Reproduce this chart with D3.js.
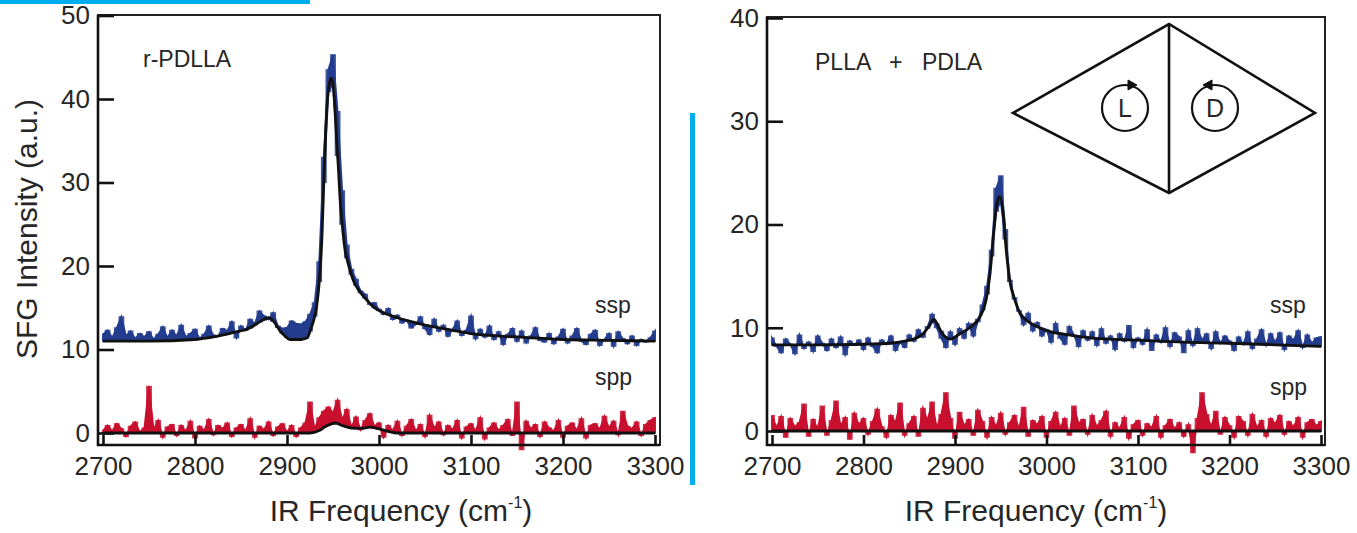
<!DOCTYPE html>
<html>
<head>
<meta charset="utf-8">
<script src="https://cdn.jsdelivr.net/npm/d3@7"></script>
<style>
  body { margin: 0; background: #fff; }
  svg { display: block; }
  text { font-family: "Liberation Sans", Arial, sans-serif; fill: #262626; }
</style>
</head>
<body>
<div id="chart"></div>
<script>
// IR frequency grid of the measured spectra (cm-1)
const freq = d3.range(2700, 3301, 5);
const xTicks = [2700, 2800, 2900, 3000, 3100, 3200, 3300];
const yTicksLeft = [0, 10, 20, 30, 40, 50];
const yTicksRight = [0, 10, 20, 30, 40];

// r-PDLLA, ssp data
const leftSsp = [
  11.8, 12.3, 11.4, 12.6, 13.9, 11.6, 12.2, 11.3, 11.9, 11.5,
  12.1, 11.2, 11.8, 12.7, 11.4, 12.3, 11.6, 12.9, 11.5, 11.9,
  12.4, 11.3, 11.8, 12.8, 11.7, 11.6, 12.5, 12.2, 13.3, 11.4,
  12.8, 12.3, 13.6, 13.1, 14.6, 14.0, 13.6, 14.4, 12.8, 12.5,
  12.6, 13.4, 13.1, 13.0, 13.3, 14.2, 15.6, 20.5, 33.0, 43.5,
  45.3, 38.5, 29.0, 22.5, 19.6, 18.4, 17.0, 16.6, 15.4, 15.6,
  14.8, 14.2, 14.9, 13.6, 14.1, 13.2, 13.5, 12.6, 13.0, 13.9,
  12.5, 11.8, 13.6, 12.2, 12.9, 11.6, 12.4, 13.4, 11.7, 12.3,
  14.0, 11.3, 12.4, 11.5, 12.8, 11.2, 12.1, 10.6, 11.8, 12.5,
  11.0, 12.2, 10.8, 11.6, 12.6, 11.1, 10.9, 11.9, 10.7, 11.5,
  12.4, 10.8, 11.6, 12.5, 11.0, 10.6, 11.8, 12.3, 10.5, 11.2,
  11.9, 10.4, 12.1, 11.3, 10.7, 11.6, 10.5, 11.2, 10.9, 11.4,
  12.2
];
// r-PDLLA, spp data
const leftSpp = [
  0.3, 0.9, 0.2, 1.1, 0.5, -0.4, 0.8, 1.3, 0.1, 0.6,
  5.6, 0.4, 1.5, -0.5, 0.7, 1.0, -0.3, 0.9, 0.2, 1.4,
  -0.6, 0.8, 0.3, 1.6, -0.2, 0.9, 0.5, 1.2, -0.4, 0.6,
  1.0, 0.2, 1.7, -0.5, 0.8, 0.4, 1.3, -0.3, 0.7, 1.1,
  0.1, 0.9, -0.4, 0.6, 1.2, 3.7, 0.5, 1.8, 2.6, 3.1,
  2.4, 3.9, 1.6, 2.8, 0.7, 1.9, 0.4, 1.5, 2.3, 0.8,
  1.2, -0.5, 0.9, 0.3, 1.4, -0.3, 0.8, 1.6, 0.2, 1.0,
  -0.4, 2.1, 0.6, 1.3, -0.2, 0.9, 0.4, 1.5, -0.6, 0.7,
  1.1, 0.2, 1.8, -0.7, 0.6, 1.2, 0.3, 0.9, 1.6, -0.3,
  3.7, -2.0, 1.4, 0.5, 1.0, -0.4, 1.3, 0.6, 0.2, 1.5,
  -0.5, 0.8, 1.2, 0.3, 1.7, -0.6, 0.9, 1.1, 0.4, 2.0,
  0.6, 1.4, -0.2, 2.6, 0.8, 0.5, 1.3, -0.3, 1.0, 1.5,
  1.8
];
// PLLA + PDLA, ssp data
const rightSsp = [
  9.0, 8.2, 7.6, 8.9, 8.4, 7.5, 9.3, 8.0, 8.6, 7.7,
  9.2, 8.5, 7.8, 8.9, 8.1, 9.1, 7.4, 8.7, 8.3, 8.8,
  7.9, 9.0, 8.2, 7.6, 8.8, 8.4, 9.2, 7.8, 8.6, 8.1,
  9.3, 8.7, 9.8, 9.1, 10.1, 11.3, 10.0, 9.0, 8.1, 9.6,
  8.4, 9.9, 9.0, 10.4, 9.2, 10.6, 12.2, 14.0, 17.5, 23.5,
  24.7, 19.5, 14.6, 12.9, 11.6, 10.3, 11.4, 9.7, 10.5, 9.2,
  9.8, 8.6, 10.4, 9.0, 8.4, 10.1, 9.3, 8.2, 9.7, 8.8,
  9.6, 8.3, 9.9, 8.5, 9.2, 7.9, 9.4, 8.7, 10.2, 8.1,
  9.0, 8.4, 9.8, 7.8, 9.3, 8.6, 10.0, 8.2, 9.5, 9.1,
  7.6, 9.7, 8.3, 9.9, 8.8, 9.4, 8.0, 9.6, 8.5, 9.2,
  8.7, 7.8, 9.1, 8.4, 9.6, 8.0, 8.9, 9.8, 8.3, 9.4,
  8.6, 9.5, 7.9, 9.2, 8.8, 9.7, 8.1, 9.3, 8.5, 9.0,
  9.1
];
// PLLA + PDLA, spp data
const rightSpp = [
  1.5, 0.3, 1.4, -0.6, 1.2, 0.4, 0.8, 2.6, -0.5, 1.1,
  0.2, 2.4, -0.4, 1.0, 2.9, 0.5, 1.3, -0.8, 1.7, 0.6,
  1.2, -0.3, 0.9, 2.1, 0.4, -0.6, 1.5, 0.8, 2.7, -0.4,
  0.7, 1.4, -0.5, 2.2, 1.0, 2.8, 0.3, 1.6, 3.7, 1.2,
  -0.7, 1.8, 0.5, 1.1, -0.4, 2.0, 0.9, -0.6, 1.3, 0.4,
  1.7, -0.3, 0.8, 1.5, 0.2, 2.3, -0.5, 1.0, 0.6, 1.4,
  -0.6, 0.9, 1.8, 0.3, 1.2, -0.4, 2.4, 0.7, 1.1, -0.3,
  1.5, 0.4, 1.0, 1.9, -0.5, 0.8, 0.2, 1.3, -0.7, 0.6,
  1.0, -0.4, 0.7, 0.3, 1.4, -0.6, 0.5, 1.1, 0.2, 0.8,
  -0.5, 0.6, -2.1, 1.2, 3.7, 1.6, 0.4, 1.9, -0.3, 1.3,
  0.5, -0.6, 1.4, 0.9, -0.4, 1.6, 0.3, 1.0, -0.5, 1.2,
  0.7, 1.5, -0.3, 0.9, 0.4, 1.3, -0.6, 0.8, 1.1, 0.5,
  0.9
];

// fitted curves (frequency, value)
const leftSspFitF = [2700, 2750, 2800, 2820, 2840, 2860, 2870, 2880, 2886, 2892,
  2898, 2903, 2915, 2922, 2926, 2929, 2932, 2934, 2936, 2938,
  2940, 2942, 2944, 2946, 2948, 2950, 2952, 2954, 2956, 2958,
  2960, 2963, 2966, 2972, 2980, 2987, 2995, 3005, 3020, 3040,
  3060, 3080, 3100, 3150, 3200, 3250, 3300];
const leftSspFitV = [11.0, 11.0, 11.2, 11.5, 12.0, 12.6, 13.3, 13.8, 13.3, 12.3,
  11.6, 11.2, 11.2, 11.4, 12.5, 13.5, 15.0, 16.8, 19.5, 23.5,
  30.0, 36.0, 40.0, 41.8, 42.5, 41.8, 39.0, 35.0, 31.5, 27.5,
  25.0, 22.0, 20.5, 18.3, 16.8, 15.9, 15.0, 14.4, 13.8, 13.2,
  12.7, 12.3, 11.9, 11.5, 11.2, 11.1, 11.0];
const leftSppFitF = [2700, 2925, 2935, 2942, 2948, 2953, 2960, 2970, 2980, 2990, 3000, 3010, 3020, 3300];
const leftSppFitV = [0, 0, 0.3, 0.8, 1.1, 1.2, 0.9, 0.6, 0.55, 0.7, 0.5, 0.2, 0, 0];
const rightSspFitF = [2700, 2750, 2800, 2830, 2845, 2858, 2866, 2872, 2877, 2882,
  2888, 2895, 2905, 2916, 2927, 2934, 2938, 2942, 2946, 2949,
  2953, 2956, 2960, 2965, 2971, 2980, 2990, 3005, 3025, 3050,
  3100, 3150, 3200, 3250, 3300];
const rightSspFitV = [8.35, 8.35, 8.4, 8.5, 8.7, 9.0, 9.5, 10.2, 10.8, 10.1,
  9.2, 8.9, 9.4, 10.0, 11.0, 12.7, 15.0, 18.9, 22.1, 22.7,
  20.8, 17.5, 14.5, 12.8, 11.4, 10.6, 10.1, 9.6, 9.3, 9.0,
  8.8, 8.6, 8.5, 8.35, 8.2];
const rightSppFitF = [2700, 3300];
const rightSppFitV = [0, 0];

const blue = "#233c8e";
const red = "#c8102e";

const width = 1357, height = 533;
const svg = d3.select("#chart").append("svg")
  .attr("width", width)
  .attr("height", height);

// decorative cyan bars of the source page
svg.append("rect").attr("x", 0).attr("y", 0).attr("width", 310).attr("height", 4).attr("fill", "#00aeef");
svg.append("rect").attr("x", 690).attr("y", 113).attr("width", 5).attr("height", 372).attr("fill", "#00aeef");

function interp(xs, ys, f) {
  const i = d3.bisectRight(xs, f);
  if (i <= 0) return ys[0];
  if (i >= xs.length) return ys[ys.length - 1];
  const t = (f - xs[i - 1]) / (xs[i] - xs[i - 1]);
  return ys[i - 1] + t * (ys[i] - ys[i - 1]);
}

const panels = [
  {
    left: 98, right: 660, top: 15, bottom: 445,
    xr: [103, 655], yr: [433, 15.5], ymax: 50, yTicks: yTicksLeft,
    series: [
      { data: leftSsp, fitF: leftSspFitF, fitV: leftSspFitV, color: blue },
      { data: leftSpp, fitF: leftSppFitF, fitV: leftSppFitV, color: red }
    ],
    titleX: 401,
    labels: [
      { text: "r-PDLLA", x: 143, y: 67 },
      { text: "ssp", x: 595, y: 313 },
      { text: "spp", x: 595, y: 385 }
    ]
  },
  {
    left: 767, right: 1325, top: 17, bottom: 445,
    xr: [772, 1321], yr: [431, 18], ymax: 40, yTicks: yTicksRight,
    series: [
      { data: rightSsp, fitF: rightSspFitF, fitV: rightSspFitV, color: blue },
      { data: rightSpp, fitF: rightSppFitF, fitV: rightSppFitV, color: red }
    ],
    titleX: 1036,
    labels: [
      { text: "PLLA", x: 815, y: 70 },
      { text: "+", x: 889, y: 70 },
      { text: "PDLA", x: 922, y: 70 },
      { text: "ssp", x: 1270, y: 313 },
      { text: "spp", x: 1270, y: 395 }
    ]
  }
];

panels.forEach(p => {
  const x = d3.scaleLinear().domain([2700, 3300]).range(p.xr);
  const y = d3.scaleLinear().domain([0, p.ymax]).range(p.yr);
  const g = svg.append("g");

  p.series.forEach(s => {
    const pts = freq.map((f, i) => ({ f: f, v: s.data[i], fit: interp(s.fitF, s.fitV, f) }));
    // blocky ribbon between the fit and the measured points
    g.append("path")
      .datum(pts)
      .attr("d", d3.area().x(d => x(d.f)).y0(d => y(d.fit)).y1(d => y(d.v)).curve(d3.curveStep))
      .attr("fill", s.color)
      .attr("stroke", s.color)
      .attr("stroke-width", 1.2)
      .attr("opacity", 0.85);
    g.append("path")
      .datum(pts)
      .attr("d", d3.area().x(d => x(d.f)).y0(d => y(d.fit)).y1(d => y(d.v)))
      .attr("fill", s.color)
      .attr("stroke", s.color)
      .attr("stroke-width", 1.8)
      .attr("stroke-linejoin", "miter");
    const fitPts = s.fitF.map((f, i) => ({ f: f, v: s.fitV[i] }));
    g.append("path")
      .datum(fitPts)
      .attr("d", d3.line().x(d => x(d.f)).y(d => y(d.v)).curve(d3.curveMonotoneX))
      .attr("fill", "none")
      .attr("stroke", "#111")
      .attr("stroke-width", 2.8)
      .attr("stroke-linejoin", "round");
  });

  // frame
  g.append("rect")
    .attr("x", p.left).attr("y", p.top)
    .attr("width", p.right - p.left).attr("height", p.bottom - p.top)
    .attr("fill", "none").attr("stroke", "#222").attr("stroke-width", 2);
  g.append("path")
    .attr("d", `M${p.left},${p.top}V${p.bottom}H${p.right}`)
    .attr("fill", "none").attr("stroke", "#111").attr("stroke-width", 2.6);

  const gx = g.append("g")
    .attr("transform", `translate(0,${p.bottom})`)
    .call(d3.axisBottom(x).tickValues(xTicks).tickFormat(d3.format("d"))
      .tickSizeInner(-10).tickSizeOuter(0).tickPadding(12));
  gx.select(".domain").remove();
  gx.selectAll("line").attr("stroke", "#111").attr("stroke-width", 2.6);
  gx.selectAll("text").attr("font-size", 26).attr("fill", "#262626");

  const gy = g.append("g")
    .attr("transform", `translate(${p.left},0)`)
    .call(d3.axisLeft(y).tickValues(p.yTicks).tickFormat(d3.format("d"))
      .tickSizeInner(-16).tickSizeOuter(0).tickPadding(8));
  gy.select(".domain").remove();
  gy.selectAll("line").attr("stroke", "#111").attr("stroke-width", 2.6);
  gy.selectAll("text").attr("font-size", 26).attr("fill", "#262626");

  const title = g.append("text")
    .attr("x", p.titleX).attr("y", 521)
    .attr("text-anchor", "middle")
    .attr("font-size", 30);
  title.append("tspan").text("IR Frequency (cm");
  title.append("tspan").attr("font-size", 16).attr("dy", -13).text("-1");
  title.append("tspan").attr("dy", 13).text(")");

  p.labels.forEach(l => {
    g.append("text").attr("x", l.x).attr("y", l.y).attr("font-size", 23).text(l.text);
  });
});

svg.append("text")
  .attr("transform", "translate(37,229) rotate(-90)")
  .attr("text-anchor", "middle")
  .attr("font-size", 30)
  .text("SFG Intensity (a.u.)");

// inset: L and D enantiomer sketch
const inset = svg.append("g").attr("fill", "none").attr("stroke", "#111").attr("stroke-width", 2.6);
inset.append("path").attr("d", "M1013,113L1169,24L1315,113L1169,193Z").attr("stroke-linejoin", "miter");
inset.append("line").attr("x1", 1169).attr("y1", 24).attr("x2", 1169).attr("y2", 193);
inset.append("circle").attr("cx", 1125).attr("cy", 108).attr("r", 23).attr("stroke-width", 2.2);
inset.append("circle").attr("cx", 1215).attr("cy", 108).attr("r", 23).attr("stroke-width", 2.2);
inset.append("path").attr("d", "M1128,80L1137,85L1128,90Z").attr("fill", "#111").attr("stroke-width", 1);
inset.append("path").attr("d", "M1212,80L1203,85L1212,90Z").attr("fill", "#111").attr("stroke-width", 1);
svg.append("text").attr("x", 1125).attr("y", 117).attr("text-anchor", "middle").attr("font-size", 25).text("L");
svg.append("text").attr("x", 1215).attr("y", 117).attr("text-anchor", "middle").attr("font-size", 25).text("D");
</script>
</body>
</html>
